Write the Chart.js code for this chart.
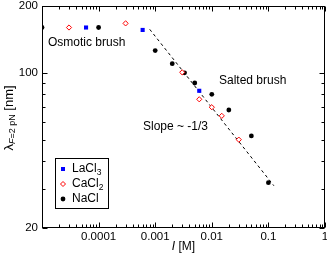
<!DOCTYPE html>
<html><head><meta charset="utf-8">
<script src="https://cdn.jsdelivr.net/npm/chart.js@4/dist/chart.umd.min.js"></script>
<style>html,body{margin:0;padding:0;background:#fff;overflow:hidden}</style>
</head><body>
<canvas id="c" width="327" height="256"></canvas>
<script>
// ---- data ----
const laCl3X = [6e-5, 6e-4, 0.006];
const laCl3Y = [160, 156, 83];
const caCl2X = [3e-5, 3e-4, 0.003, 0.006, 0.01, 0.015, 0.03];
const caCl2Y = [160, 167, 100.5, 76, 70, 64, 50];
const naClX = [1e-5, 1e-4, 0.001, 0.002, 0.0033, 0.005, 0.01, 0.02, 0.05, 0.1];
const naClY = [160, 160, 126, 110, 100, 90, 80, 68, 52, 32];
const slopeX = [8e-4, 0.125];
const slopeY = [157, 31];
const xMajor = [1e-5, 1e-4, 1e-3, 1e-2, 1e-1, 1];
const xLabels = ['', '0.0001', '0.001', '0.01', '0.1', '1'];
const yMajor = [20, 100, 200];
const yMinor = [30, 40, 50, 60, 70, 80, 90];
const yLabels = ['20', '100', '200'];

const FONT = '"Liberation Sans", Arial, sans-serif';
const pts = (xs, ys) => xs.map((x, i) => ({x, y: ys[i]}));

const xMinor = [];
for (let e = -5; e < 0; e++) for (let k = 2; k <= 9; k++) xMinor.push(k * Math.pow(10, e));

function drawMarker(ctx, style, x, y) {
  ctx.save();
  if (style === 'rect') {
    ctx.fillStyle = '#0000ff';
    ctx.fillRect(x - 2, y - 2, 4, 4);
  } else if (style === 'rectRot') {
    ctx.beginPath();
    ctx.moveTo(x, y - 2.5); ctx.lineTo(x + 2.5, y); ctx.lineTo(x, y + 2.5); ctx.lineTo(x - 2.5, y); ctx.closePath();
    ctx.fillStyle = '#fff'; ctx.fill();
    ctx.strokeStyle = '#ff0000'; ctx.lineWidth = 1; ctx.stroke();
  } else {
    ctx.beginPath(); ctx.arc(x, y, 2.4, 0, Math.PI * 2);
    ctx.fillStyle = '#000'; ctx.fill();
  }
  ctx.restore();
}

const framePlugin = {
  id: 'frame',
  afterDraw(chart) {
    const {ctx, chartArea: a, scales} = chart;
    const xs = scales.x, ys = scales.y;
    const L = Math.round(a.left) + 0.5, R = Math.round(a.right) - 0.5;
    const T = Math.round(a.top) + 0.5, B = Math.round(a.bottom) - 0.5;
    ctx.save();
    ctx.strokeStyle = '#000'; ctx.lineWidth = 1;
    ctx.strokeRect(L, T, R - L, B - T);
    ctx.beginPath();
    const xt = (v, len) => { const p = Math.round(xs.getPixelForValue(v)) + 0.5;
      ctx.moveTo(p, B); ctx.lineTo(p, B - len); ctx.moveTo(p, T); ctx.lineTo(p, T + len); };
    const yt = (v, len) => { const p = Math.round(ys.getPixelForValue(v)) + 0.5;
      ctx.moveTo(L, p); ctx.lineTo(L + len, p); ctx.moveTo(R, p); ctx.lineTo(R - len, p); };
    xMajor.forEach(v => xt(v, 5)); xMinor.forEach(v => xt(v, 3));
    yMajor.forEach(v => yt(v, 5)); yMinor.forEach(v => yt(v, 3));
    ctx.stroke();

    // annotations
    ctx.fillStyle = '#000';
    ctx.font = '12px ' + FONT;
    ctx.textBaseline = 'middle'; ctx.textAlign = 'left';
    ctx.fillText('Osmotic brush', 48, 43);
    ctx.fillText('Salted brush', 219, 81);
    ctx.fillText('Slope ~ -1/3', 143, 127);

    // legend
    ctx.fillStyle = '#fff';
    ctx.fillRect(55.5, 158.5, 53, 50);
    ctx.strokeRect(55.5, 158.5, 53, 50);
    const ents = [[0, 'LaCl', '3', 169], [1, 'CaCl', '2', 184], [2, 'NaCl', '', 199]];
    ents.forEach(([di, main, sub, y]) => {
      const ds = chart.data.datasets[di];
      drawMarker(ctx, ds.pointStyle, 63, y);
      ctx.fillStyle = '#000';
      ctx.font = '12px ' + FONT;
      ctx.fillText(main, 72, y);
      if (sub) {
        const w = ctx.measureText(main).width;
        ctx.font = '8.5px ' + FONT;
        ctx.fillText(sub, 72 + w, y + 4);
      }
    });

    // x title
    const cx = (a.left + a.right) / 2;
    ctx.font = 'italic 12px ' + FONT; const wI = ctx.measureText('I').width;
    ctx.font = '12px ' + FONT; const wR = ctx.measureText(' [M]').width;
    const sx = cx - (wI + wR) / 2;
    ctx.font = 'italic 12px ' + FONT; ctx.fillText('I', sx, 247);
    ctx.font = '12px ' + FONT; ctx.fillText(' [M]', sx + wI, 247);

    // y title
    ctx.save();
    ctx.translate(9, 118);
    ctx.rotate(-Math.PI / 2);
    const parts = [['λ', '13px ', 0], ['F', 'italic 9px ', 3.5], ['=2 pN', '9px ', 3.5], [' [nm]', '13px ', 0]];
    let tot = 0;
    parts.forEach(p => { ctx.font = p[1] + FONT; tot += ctx.measureText(p[0]).width; });
    let px = -tot / 2;
    parts.forEach(p => { ctx.font = p[1] + FONT; ctx.fillText(p[0], px, p[2]); px += ctx.measureText(p[0]).width; });
    ctx.restore();
    ctx.restore();
  }
};

new Chart(document.getElementById('c'), {
  type: 'scatter',
  data: {
    datasets: [
      {label: 'LaCl3', data: pts(laCl3X, laCl3Y), pointStyle: 'rect', pointRadius: 2.9,
       backgroundColor: '#0000ff', borderColor: '#0000ff', borderWidth: 0},
      {label: 'CaCl2', data: pts(caCl2X, caCl2Y), pointStyle: 'rectRot', pointRadius: 2.6,
       backgroundColor: '#ffffff', borderColor: '#ff0000', borderWidth: 1},
      {label: 'NaCl', data: pts(naClX, naClY), pointStyle: 'circle', pointRadius: 2.4,
       backgroundColor: '#000000', borderColor: '#000000', borderWidth: 0},
      {label: 'slope', type: 'line', data: pts(slopeX, slopeY), showLine: true, pointRadius: 0,
       borderColor: '#000', borderWidth: 1, borderDash: [3, 3], fill: false}
    ]
  },
  options: {
    responsive: false, animation: false, devicePixelRatio: 1,
    layout: {autoPadding: false, padding: {top: 6, right: 2, left: 0, bottom: 0}},
    plugins: {legend: {display: false}, tooltip: {enabled: false}},
    scales: {
      x: {
        type: 'logarithmic', min: 1e-5, max: 1,
        afterBuildTicks: s => { s.ticks = xMajor.map(v => ({value: v})); },
        afterFit: s => { s.height = 28; s.paddingLeft = 0; s.paddingRight = 0; },
        grid: {display: false, drawTicks: false}, border: {display: false},
        ticks: {autoSkip: false, maxRotation: 0, padding: 2, color: '#000',
          font: {family: FONT, size: 11.5},
          callback: (v, i) => xLabels[i]}
      },
      y: {
        type: 'logarithmic', min: 20, max: 200,
        afterBuildTicks: s => { s.ticks = yMajor.map(v => ({value: v})); },
        afterFit: s => { s.width = 42; s.paddingTop = 0; s.paddingBottom = 0; },
        grid: {display: false, drawTicks: false}, border: {display: false},
        ticks: {autoSkip: false, padding: 4, color: '#000',
          font: {family: FONT, size: 11.5},
          callback: (v, i) => yLabels[i]}
      }
    }
  },
  plugins: [framePlugin]
});
</script>
</body></html>
